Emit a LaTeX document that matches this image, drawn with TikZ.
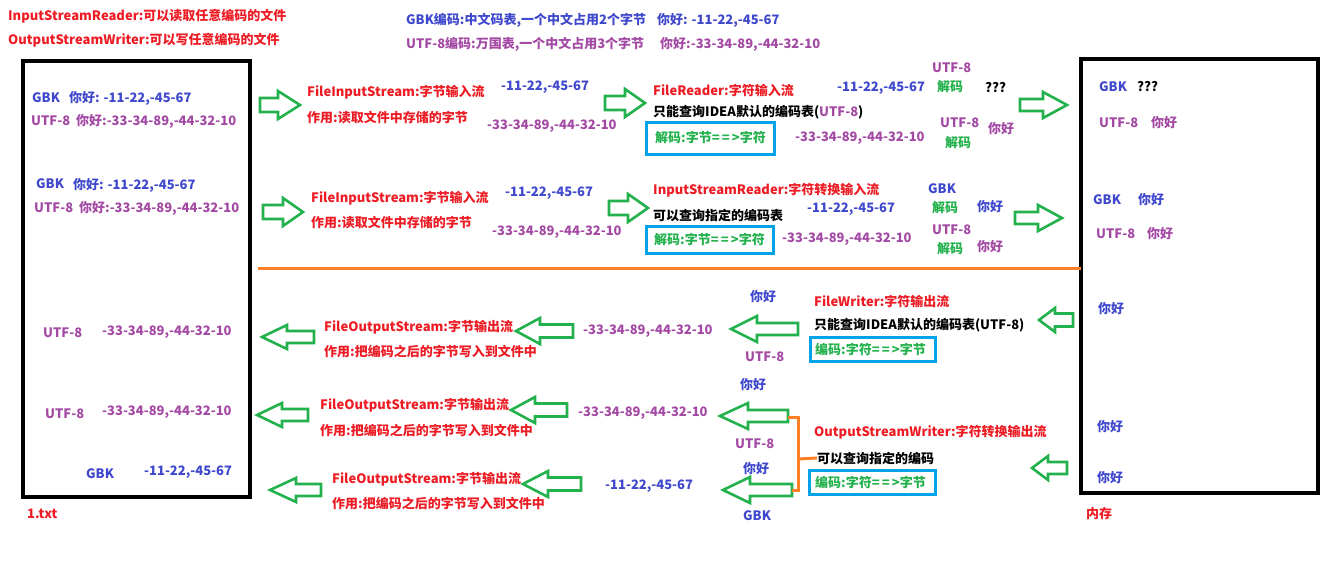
\documentclass[tikz,border=0pt]{standalone}
\usepackage{fontspec}
\setmainfont{Noto Sans CJK SC}
\definecolor{cred}{RGB}{237,28,36}
\definecolor{cblue}{RGB}{63,72,204}
\definecolor{cpurp}{RGB}{163,73,164}
\definecolor{cgreen}{RGB}{34,177,76}
\definecolor{ccyan}{RGB}{0,162,232}
\definecolor{corange}{RGB}{255,127,39}
\tikzset{
  tx/.style={anchor=west, inner sep=0pt, font=\bfseries\fontsize{13}{16}\selectfont},
  tr/.style={tx, text=cred},
  tb/.style={tx, text=cblue},
  tp/.style={tx, text=cpurp},
  tg/.style={tx, text=cgreen},
  tk/.style={tx, text=black},
  panel/.style={draw=black, line width=4pt},
  codebox/.style={draw=ccyan, line width=3pt},
  blockarrow/.style={draw=cgreen, line width=2.6pt, line join=miter},
  bracket/.style={draw=corange, line width=3pt},
}
% tail x, head base x, tip x, centre y, shaft half height, head half height
\newcommand\barrow[6]{%
  \draw[blockarrow] (#1,{#4-#5}) -- (#2,{#4-#5}) -- (#2,{#4-#6}) -- (#3,#4)
    -- (#2,{#4+#6}) -- (#2,{#4+#5}) -- (#1,{#4+#5}) -- cycle;}
\begin{document}
\begin{tikzpicture}[x=1pt,y=-1pt]
\useasboundingbox (0,0) rectangle (1343,565);
% header
\node[tr] (h1) at (8,16) {InputStreamReader:可以读取任意编码的文件};
\node[tr] (h2) at (8,40) {OutputStreamWriter:可以写任意编码的文件};
\node[tb] (h3) at (406,20) {GBK编码:中文码表,一个中文占用2个字节};
\node[tb] (h4) at (657,20) {你好: -11-22,-45-67};
\node[tp] (h5) at (406,44) {UTF-8编码:万国表,一个中文占用3个字节};
\node[tp] (h6) at (660,44) {你好:-33-34-89,-44-32-10};
% panels
\draw[panel] (23,61) rectangle (250,497);
\draw[panel] (1081,59) rectangle (1318,493);
\node[tr] (f1) at (27,514) {1.txt};
\node[tr] (m1) at (1086,514) {内存};
\draw[bracket] (258,268) -- (1081,268);
% left panel
\node[tb] (l1) at (32,98) {GBK};
\node[tb] (l2) at (69,98) {你好: -11-22,-45-67};
\node[tp] (l3) at (31,121) {UTF-8};
\node[tp] (l4) at (76,121) {你好:-33-34-89,-44-32-10};
\node[tb] (l5) at (36,184) {GBK};
\node[tb] (l6) at (73,185) {你好: -11-22,-45-67};
\node[tp] (l7) at (34,208) {UTF-8};
\node[tp] (l8) at (79,208) {你好:-33-34-89,-44-32-10};
\node[tp] (l9) at (43,333) {UTF-8};
\node[tp] (l10) at (102,332) {-33-34-89,-44-32-10};
\node[tp] (l11) at (45,414) {UTF-8};
\node[tp] (l12) at (102,412) {-33-34-89,-44-32-10};
\node[tb] (l13) at (86,474) {GBK};
\node[tb] (l14) at (144,472) {-11-22,-45-67};
% right panel
\node[tb] (r1) at (1099,87) {GBK};
\node[tk] (r2) at (1137,87) {???};
\node[tp] (r3) at (1099,123) {UTF-8};
\node[tp] (r4) at (1151,123) {你好};
\node[tb] (r5) at (1093,200) {GBK};
\node[tb] (r6) at (1138,200) {你好};
\node[tp] (r7) at (1096,234) {UTF-8};
\node[tp] (r8) at (1147,234) {你好};
\node[tb] (r9) at (1098,309) {你好};
\node[tb] (r10) at (1097,427) {你好};
\node[tb] (r11) at (1097,478) {你好};
% row 1 (read, FileReader)
\barrow{260}{278}{300}{105}{7}{14}
\node[tr] (a1) at (307,92) {FileInputStream:字节输入流};
\node[tr] (a2) at (307,118) {作用:读取文件中存储的字节};
\node[tb] (a3) at (501,87) {-11-22,-45-67};
\node[tp] (a4) at (487,126) {-33-34-89,-44-32-10};
\barrow{605}{625}{645}{103}{7}{14}
\node[tr] (a5) at (653,90) {FileReader:字符输入流};
\node[tk] (a6) at (653,112) {只能查询IDEA默认的编码表(\textcolor{cpurp}{UTF-8})};
\node[tg] (a7) at (655,138) {解码:字节=\,=\,>字符};
\draw[codebox] (646,122) rectangle (774,154);
\node[tb] (a8) at (837,88) {-11-22,-45-67};
\node[tp] (a9) at (795,138) {-33-34-89,-44-32-10};
\node[tp] (a10) at (932,68) {UTF-8};
\node[tg] (a11) at (937,87) {解码};
\node[tk] (a12) at (985,88) {???};
\node[tp] (a13) at (940,123) {UTF-8};
\node[tp] (a14) at (988,129) {你好};
\node[tg] (a15) at (945,143) {解码};
\barrow{1020}{1043}{1067}{105}{6}{13}
% row 2 (read, InputStreamReader)
\barrow{263}{283}{303}{212}{7}{14}
\node[tr] (b1) at (311,198) {FileInputStream:字节输入流};
\node[tr] (b2) at (311,223) {作用:读取文件中存储的字节};
\node[tb] (b3) at (505,193) {-11-22,-45-67};
\node[tp] (b4) at (492,232) {-33-34-89,-44-32-10};
\barrow{609}{628}{648}{208}{7}{14}
\node[tr] (b5) at (653,190) {InputStreamReader:字符转换输入流};
\node[tk] (b6) at (653,215) {可以查询指定的编码表};
\node[tg] (b7) at (654,240) {解码:字节=\,=\,>字符};
\draw[codebox] (646,226) rectangle (773,253);
\node[tb] (b8) at (807,209) {-11-22,-45-67};
\node[tp] (b9) at (782,239) {-33-34-89,-44-32-10};
\node[tb] (b10) at (928,189) {GBK};
\node[tg] (b11) at (932,208) {解码};
\node[tb] (b12) at (977,207) {你好};
\node[tp] (b13) at (932,230) {UTF-8};
\node[tg] (b14) at (937,249) {解码};
\node[tp] (b15) at (977,247) {你好};
\barrow{1015}{1038}{1062}{218}{6}{13}
% row 3 (write, FileWriter)
\barrow{1073}{1055}{1039}{320}{6.5}{12}
\node[tr] (c1) at (814,301) {FileWriter:字符输出流};
\node[tk] (c2) at (814,325) {只能查询IDEA默认的编码表(UTF-8)};
\node[tg] (c3) at (815,349) {编码:字符=\,=\,>字节};
\draw[codebox] (810,337) rectangle (935,361);
\node[tb] (c4) at (750,297) {你好};
\node[tp] (c5) at (745,357) {UTF-8};
\barrow{798}{757}{731}{329}{6}{13}
\node[tp] (c6) at (583,331) {-33-34-89,-44-32-10};
\barrow{573}{540}{516}{331}{6.5}{13}
\node[tr] (c7) at (324,327) {FileOutputStream:字节输出流};
\node[tr] (c8) at (324,351) {作用:把编码之后的字节写入到文件中};
\barrow{314}{287}{262}{337}{6}{12}
% rows 4-5 (write, OutputStreamWriter)
\barrow{1067}{1048}{1032}{468}{6}{12}
\node[tr] (d1) at (814,432) {OutputStreamWriter:字符转换输出流};
\node[tk] (d2) at (817,458) {可以查询指定的编码};
\node[tg] (d3) at (815,482) {编码:字符=\,=\,>字节};
\draw[codebox] (809,470) rectangle (935,494);
\node[tb] (d4) at (740,385) {你好};
\node[tp] (d5) at (735,444) {UTF-8};
\node[tb] (d6) at (743,469) {你好};
\node[tb] (d7) at (743,516) {GBK};
\barrow{788}{748}{720}{416}{6}{13}
\barrow{792}{750}{723}{490}{6}{13}
\coordinate (o1) at (788,417);
\coordinate (o2) at (792,490);
\coordinate (o3) at (798,417);
\coordinate (o4) at (798,490);
\draw[bracket] (o1) -- (o3) -- (o4) -- (o2);
\draw[bracket] (798,459) -- (d2.west);
\node[tp] (d8) at (578,413) {-33-34-89,-44-32-10};
\node[tb] (d9) at (605,486) {-11-22,-45-67};
\barrow{567}{535}{511}{410}{6.5}{13}
\barrow{581}{548}{523}{484}{6.5}{13}
\node[tr] (d10) at (320,405) {FileOutputStream:字节输出流};
\node[tr] (d11) at (320,430) {作用:把编码之后的字节写入到文件中};
\barrow{308}{282}{257}{415}{6}{12}
\node[tr] (d12) at (332,479) {FileOutputStream:字节输出流};
\node[tr] (d13) at (332,503) {作用:把编码之后的字节写入到文件中};
\barrow{321}{296}{270}{490}{6}{12}
\end{tikzpicture}
\end{document}
